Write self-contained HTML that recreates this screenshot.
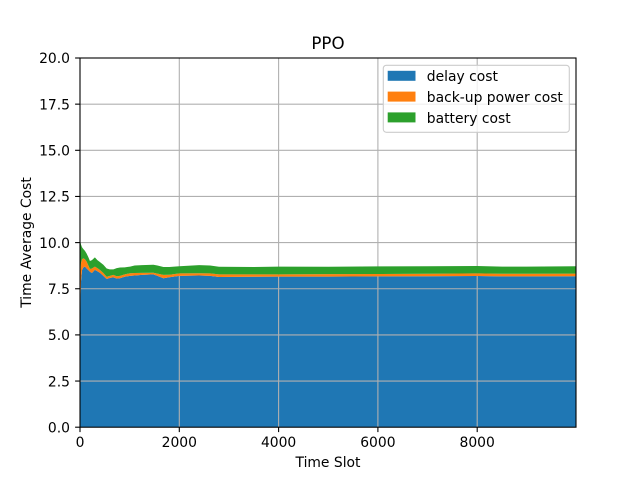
<!DOCTYPE html>
<html>
<head>
<meta charset="utf-8">
<style>
html,body{margin:0;padding:0;background:#fff;}
svg{display:block;}
text{font-family:"DejaVu Sans","Liberation Sans",sans-serif;fill:#000;}
</style>
</head>
<body>
<svg id="chart" width="640" height="480" viewBox="0 0 640 480" xmlns="http://www.w3.org/2000/svg">
<rect width="640" height="480" fill="#fff"/>
<g id="series-below"></g>
<g id="grid"></g>
<g id="series-above"></g>
<rect x="80" y="58" width="496" height="369.2" fill="none" stroke="#000" stroke-width="1.1"/>
<g id="ticks"></g>
<text x="328" y="49" font-size="16.67" text-anchor="middle">PPO</text>
<text x="328" y="467" font-size="13.89" text-anchor="middle">Time Slot</text>
<text transform="translate(31 242.5) rotate(-90)" font-size="13.89" text-anchor="middle">Time Average Cost</text>
<g>
<rect x="383.3" y="65.3" width="186" height="67" rx="3" fill="#fff" fill-opacity="0.8" stroke="#ccc" stroke-width="1.1"/>
<rect x="387.7" y="70.8" width="27.8" height="10" fill="#1f77b4"/>
<text x="426.8" y="81" font-size="13.89">delay cost</text>
<rect x="387.7" y="91.6" width="27.8" height="10" fill="#ff7f0e"/>
<text x="426.8" y="102" font-size="13.89">back-up power cost</text>
<rect x="387.7" y="112.4" width="27.8" height="10" fill="#2ca02c"/>
<text x="426.8" y="123" font-size="13.89">battery cost</text>
</g>
</svg>
<script>
const timeSlots = [0,12,20,40,67,100,134,170,200,240,300,350,400,470,537,600,672,740,806,900,1008,1100,1250,1478,1560,1680,1800,2000,2400,2620,2800,3500,4000,5000,6000,7000,8000,8500,9000,9999];
const delayCost = [0.8,7.2,7.9,8.5,8.66,8.7,8.6,8.5,8.42,8.35,8.52,8.45,8.37,8.2,8.03,8.08,8.12,8.05,8.07,8.15,8.2,8.22,8.25,8.28,8.2,8.07,8.12,8.2,8.22,8.2,8.14,8.15,8.16,8.16,8.17,8.18,8.19,8.17,8.17,8.18];
const backupCost = [7.6,1.4,1.0,0.6,0.49,0.4,0.37,0.25,0.15,0.25,0.18,0.17,0.15,0.15,0.12,0.12,0.13,0.13,0.13,0.13,0.14,0.13,0.11,0.09,0.12,0.18,0.14,0.13,0.12,0.13,0.14,0.13,0.12,0.13,0.13,0.13,0.14,0.14,0.14,0.14];
const batteryCost = [1.7,1.4,1.0,0.65,0.5,0.45,0.43,0.45,0.43,0.45,0.5,0.43,0.43,0.45,0.45,0.35,0.3,0.44,0.45,0.38,0.36,0.41,0.42,0.43,0.44,0.43,0.42,0.39,0.44,0.43,0.41,0.4,0.42,0.4,0.41,0.41,0.4,0.39,0.39,0.4];
const xTickValues = [0,2000,4000,6000,8000];
const yTickValues = [0,2.5,5,7.5,10,12.5,15,17.5,20];
const yTickLabels = ["0.0","2.5","5.0","7.5","10.0","12.5","15.0","17.5","20.0"];
const xMax = 9990;
const yMax = 20;

const SVGNS = "http://www.w3.org/2000/svg";
function xScale(v){ return 80 + v / xMax * 496; }
function yScale(v){ return 427.2 - v / yMax * 369.2; }
function cumulative(lists){
  return timeSlots.map(function(_, i){
    return lists.reduce(function(sum, list){ return sum + list[i]; }, 0);
  });
}
function areaPath(lower, upper){
  let d = "";
  timeSlots.forEach(function(t, i){
    d += (i ? "L" : "M") + xScale(Math.min(t, xMax)).toFixed(2) + " " + yScale(upper[i]).toFixed(2);
  });
  for (let i = timeSlots.length - 1; i >= 0; i--) {
    d += "L" + xScale(Math.min(timeSlots[i], xMax)).toFixed(2) + " " + yScale(lower[i]).toFixed(2);
  }
  return d + "Z";
}

const zeros = timeSlots.map(function(){ return 0; });
const top1 = cumulative([delayCost]);
const top2 = cumulative([delayCost, backupCost]);
const top3 = cumulative([delayCost, backupCost, batteryCost]);

const below = document.getElementById("series-below");
const above = document.getElementById("series-above");
const grid = document.getElementById("grid");
const ticks = document.getElementById("ticks");

const delayArea = document.createElementNS(SVGNS, "path");
delayArea.setAttribute("d", areaPath(zeros, top1));
delayArea.setAttribute("fill", "#1f77b4");


below.appendChild(delayArea);

const backupArea = document.createElementNS(SVGNS, "path");
backupArea.setAttribute("d", areaPath(top1, top2));
backupArea.setAttribute("fill", "#ff7f0e");


above.appendChild(backupArea);

const batteryArea = document.createElementNS(SVGNS, "path");
batteryArea.setAttribute("d", areaPath(top2, top3));
batteryArea.setAttribute("fill", "#2ca02c");


above.appendChild(batteryArea);

xTickValues.forEach(function(v){
  const px = xScale(v);
  if (v > 0) {
    const g = document.createElementNS(SVGNS, "line");
    g.setAttribute("x1", px); g.setAttribute("x2", px);
    g.setAttribute("y1", 58); g.setAttribute("y2", 427.2);
    g.setAttribute("stroke", "#b0b0b0");
    g.setAttribute("stroke-width", "1.1");
    
    
    grid.appendChild(g);
  }
  const t = document.createElementNS(SVGNS, "line");
  t.setAttribute("x1", px); t.setAttribute("x2", px);
  t.setAttribute("y1", 427.2); t.setAttribute("y2", 432.1);
  t.setAttribute("stroke", "#000");
  t.setAttribute("stroke-width", "1.1");
  
  
  ticks.appendChild(t);
  const l = document.createElementNS(SVGNS, "text");
  l.setAttribute("x", px);
  l.setAttribute("y", 447);
  l.setAttribute("font-size", "13.89");
  l.setAttribute("text-anchor", "middle");
  l.textContent = String(v);
  
  
  ticks.appendChild(l);
});

yTickValues.forEach(function(v, i){
  const py = yScale(v);
  if (v > 0 && v < yMax) {
    const g = document.createElementNS(SVGNS, "line");
    g.setAttribute("x1", 80); g.setAttribute("x2", 576);
    g.setAttribute("y1", py); g.setAttribute("y2", py);
    g.setAttribute("stroke", "#b0b0b0");
    g.setAttribute("stroke-width", "1.1");
    
    
    grid.appendChild(g);
  }
  const t = document.createElementNS(SVGNS, "line");
  t.setAttribute("x1", 75.1); t.setAttribute("x2", 80);
  t.setAttribute("y1", py); t.setAttribute("y2", py);
  t.setAttribute("stroke", "#000");
  t.setAttribute("stroke-width", "1.1");
  
  
  ticks.appendChild(t);
  const l = document.createElementNS(SVGNS, "text");
  l.setAttribute("x", 70);
  l.setAttribute("y", py + 5.2);
  l.setAttribute("font-size", "13.89");
  l.setAttribute("text-anchor", "end");
  l.textContent = yTickLabels[i];
  
  
  ticks.appendChild(l);
});
</script>
</body>
</html>
